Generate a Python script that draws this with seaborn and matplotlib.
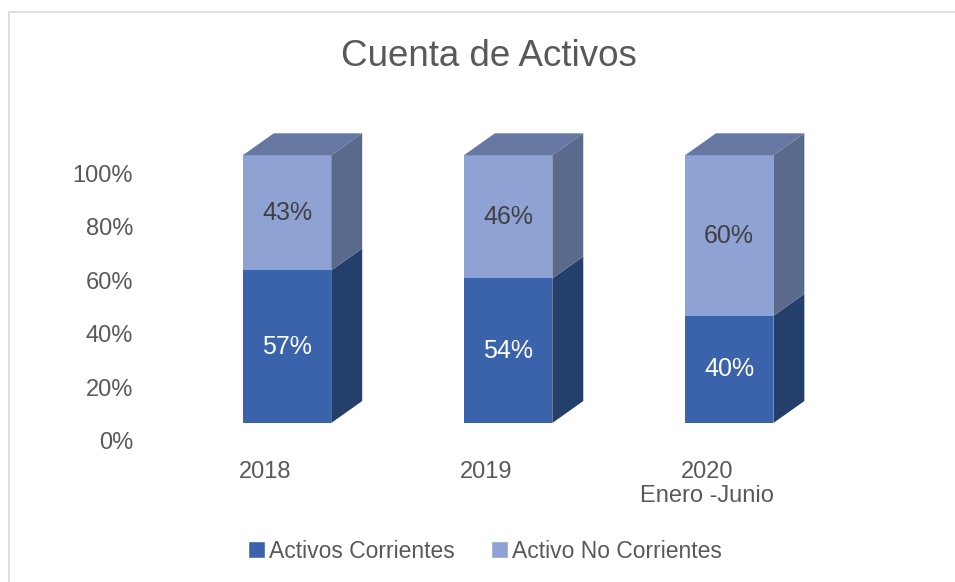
import matplotlib
matplotlib.use("Agg")
import matplotlib.pyplot as plt
import matplotlib.transforms as mtransforms
from matplotlib.patches import Polygon, Rectangle, Patch
import seaborn as sns
import pandas as pd

# data
YEARS = ["2018", "2019", "2020\nEnero -Junio"]
CORRIENTES = [57, 54, 40]
NO_CORRIENTES = [43, 46, 60]
SERIES = ["Activos Corrientes", "Activo No Corrientes"]
YTICKS = [0, 20, 40, 60, 80, 100]

FRONT = ["#3A63AC", "#8FA2D4"]
SIDE = ["#253F6D", "#5A6A8C"]
TOP = "#6677A2"
TEXT = "#595959"
DEPTH_X = 0.14   # category units
DEPTH_Y = 8.2    # percent units

sns.set_theme(style="white")
plt.rcParams["font.family"] = ["Liberation Sans", "DejaVu Sans"]

df = pd.DataFrame({"year": YEARS, "cor": CORRIENTES, "nocor": NO_CORRIENTES})
df["total"] = df["cor"] + df["nocor"]

fig = plt.figure(figsize=(9.55, 5.82), dpi=100)
ax = fig.add_axes([0.1466, 0.2732, 0.779, 0.529])

# front faces: total first (light), then the bottom segment on top of it
sns.barplot(data=df, x="year", y="total", color=FRONT[1], saturation=1,
            width=0.4, ax=ax, linewidth=0)
sns.barplot(data=df, x="year", y="cor", color=FRONT[0], saturation=1,
            width=0.4, ax=ax, linewidth=0)

bars = list(ax.patches)
n = len(YEARS)
tops, bottoms = bars[:n], bars[n:]

# 3D side / top faces built from the bar geometry
for i in range(n):
    for seg, (b, y0) in enumerate([(bottoms[i], 0), (tops[i], CORRIENTES[i])]):
        x0 = b.get_x()
        x1 = x0 + b.get_width()
        y1 = b.get_y() + b.get_height()
        side = Polygon([(x1, y0), (x1 + DEPTH_X, y0 + DEPTH_Y),
                        (x1 + DEPTH_X, y1 + DEPTH_Y), (x1, y1)],
                       closed=True, facecolor=SIDE[seg], edgecolor="none")
        ax.add_patch(side)
    b = tops[i]
    x0 = b.get_x()
    x1 = x0 + b.get_width()
    y1 = b.get_y() + b.get_height()
    top = Polygon([(x0, y1), (x0 + DEPTH_X, y1 + DEPTH_Y),
                   (x1 + DEPTH_X, y1 + DEPTH_Y), (x1, y1)],
                  closed=True, facecolor=TOP, edgecolor="none")
    ax.add_patch(top)

    # value labels
    ax.text(i, CORRIENTES[i] / 2, f"{CORRIENTES[i]}%", ha="center", va="center",
            fontsize=18, color="white")
    ax.text(i, CORRIENTES[i] + NO_CORRIENTES[i] / 2, f"{NO_CORRIENTES[i]}%",
            ha="center", va="center", fontsize=18, color="#404040")

ax.set_xlim(-0.665, 2.7)
ax.set_ylim(0, 115)
ax.set_yticks(YTICKS)
ax.set_yticklabels([f"{v}%" for v in YTICKS])
ax.set_xlabel("")
ax.set_ylabel("")
for s in ax.spines.values():
    s.set_visible(False)
ax.tick_params(axis="both", length=0, labelsize=17, labelcolor=TEXT)
ax.tick_params(axis="y", pad=5)
ax.tick_params(axis="x", pad=14.5)

# shift tick labels to the floor plane like the 3D chart
for lab in ax.get_yticklabels():
    lab.set_transform(lab.get_transform() + mtransforms.ScaledTranslation(0, -0.18, fig.dpi_scale_trans))
for lab in ax.get_xticklabels():
    lab.set_transform(lab.get_transform() + mtransforms.ScaledTranslation(-0.22, -0.18, fig.dpi_scale_trans))
    lab.set_linespacing(1.12)

fig.text(0.512, 0.903, "Cuenta de Activos", ha="center", va="center",
         fontsize=26.5, color=TEXT)

handles = [Patch(facecolor=FRONT[0]), Patch(facecolor=FRONT[1])]
fig.legend(handles, SERIES, loc="center", bbox_to_anchor=(0.5075, 0.053),
           ncol=2, frameon=False, fontsize=16.5, handlelength=0.75,
           handleheight=0.75, handletextpad=0.15, columnspacing=1.6,
           labelcolor=TEXT)

# chart frame
fig.patches.append(Rectangle((9 / 955, -0.1), 1.0, 1.1 - 12 / 582,
                             transform=fig.transFigure, fill=False,
                             edgecolor="#D9D9D9", linewidth=1.2))

fig.savefig("out.png", dpi=100)
